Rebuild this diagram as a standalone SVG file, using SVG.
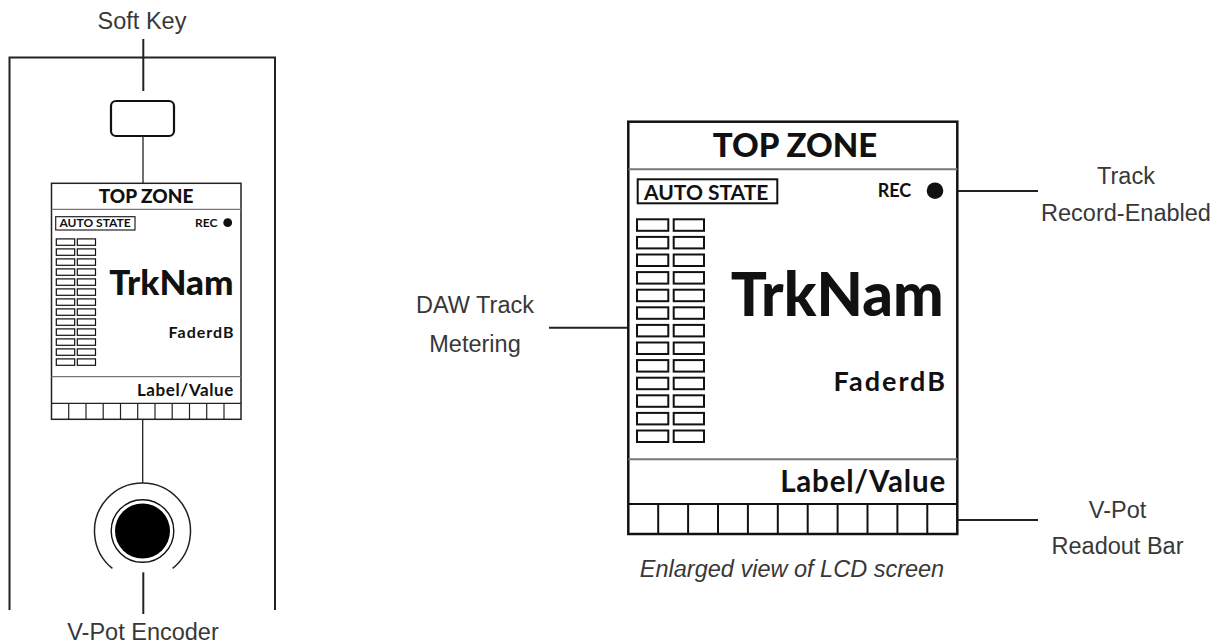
<svg xmlns="http://www.w3.org/2000/svg" width="1216" height="643" viewBox="0 0 1216 643">
<style>
.lbl{font-family:"Liberation Sans",Arial,sans-serif;font-size:23.5px;fill:#383838;text-anchor:middle}
.cap{font-style:italic}
.lcd{font-family:Lato,"Liberation Sans",sans-serif;fill:#111}
.blk{font-weight:900}
.bld{font-weight:700}
.end{text-anchor:end}
.mid{text-anchor:middle}
.ln{fill:none;stroke:#222}
.div{stroke:#777}
.cell{fill:#fff;stroke:#111}
</style>
<defs>
<g id="rowL"><rect class="cell" x="637" y="0" width="31.3" height="11.5" stroke-width="2"/><rect class="cell" x="673.7" y="0" width="30.3" height="11.5" stroke-width="2"/></g>
<g id="rowS"><rect class="cell" x="56.3" y="0" width="18.4" height="6.4" stroke-width="1.2"/><rect class="cell" x="77.3" y="0" width="18.2" height="6.4" stroke-width="1.2"/></g>
</defs>
<rect width="1216" height="643" fill="#fff"/>

<g id="channel-strip">
<path class="ln" d="M9.5 610 V57.5 H275 V610" stroke-width="2"/>
</g>

<g id="soft-key">
<rect x="111" y="101" width="63" height="35" rx="5" fill="#fff" stroke="#111" stroke-width="2.2"/>
</g>

<g id="lcd-small">
<rect x="51.5" y="183.3" width="189.5" height="236" fill="#fff" stroke="#222" stroke-width="1.5"/>
<line class="div" x1="51.5" y1="209.3" x2="241" y2="209.3" stroke-width="1.3"/>
<line class="div" x1="51.5" y1="376.7" x2="241" y2="376.7" stroke-width="1.3"/>
<line x1="51.5" y1="403.3" x2="241" y2="403.3" stroke="#222" stroke-width="1.3"/>
<g stroke="#222" stroke-width="1.2">
<line x1="68.7" y1="403.3" x2="68.7" y2="419.3"/><line x1="86" y1="403.3" x2="86" y2="419.3"/><line x1="103.2" y1="403.3" x2="103.2" y2="419.3"/><line x1="120.5" y1="403.3" x2="120.5" y2="419.3"/><line x1="137.7" y1="403.3" x2="137.7" y2="419.3"/><line x1="155" y1="403.3" x2="155" y2="419.3"/><line x1="172.2" y1="403.3" x2="172.2" y2="419.3"/><line x1="189.5" y1="403.3" x2="189.5" y2="419.3"/><line x1="206.7" y1="403.3" x2="206.7" y2="419.3"/><line x1="224" y1="403.3" x2="224" y2="419.3"/>
</g>
<text class="lcd blk mid" x="146" y="202.7" font-size="19">TOP ZONE</text>
<rect x="55.7" y="216.7" width="79.3" height="13.3" fill="none" stroke="#222" stroke-width="1.2"/>
<text class="lcd bld" x="59.5" y="227.3" font-size="12">AUTO STATE</text>
<text class="lcd bld" x="195" y="226.7" font-size="12" fill="#222">REC</text>
<circle cx="227.7" cy="222.7" r="4.4" fill="#111"/>
<use href="#rowS" y="238.9"/><use href="#rowS" y="248.9"/><use href="#rowS" y="258.9"/><use href="#rowS" y="268.9"/><use href="#rowS" y="278.9"/><use href="#rowS" y="288.9"/><use href="#rowS" y="298.9"/><use href="#rowS" y="308.9"/><use href="#rowS" y="318.9"/><use href="#rowS" y="328.9"/><use href="#rowS" y="338.9"/><use href="#rowS" y="348.9"/><use href="#rowS" y="358.9"/>
<text class="lcd blk end" x="233.5" y="295" font-size="35">TrkNam</text>
<text class="lcd bld end" x="234.5" y="338.3" font-size="16" letter-spacing="1" fill="#222">FaderdB</text>
<text class="lcd bld end" x="234" y="395.7" font-size="17" letter-spacing="0.6" fill="#222">Label/Value</text>
</g>

<g id="v-pot-encoder">
<path class="ln" d="M112.4 568.4 A48 48 0 1 1 172.6 568.4" stroke-width="1.5"/>
<circle cx="142.5" cy="531" r="31.3" fill="#fff" stroke="#111" stroke-width="1.4"/>
<circle cx="142.5" cy="531" r="27.5" fill="#000"/>
</g>

<g id="lcd-large">
<rect x="628.3" y="121.7" width="329" height="412.3" fill="#fff" stroke="#111" stroke-width="2.5"/>
<line class="div" x1="628.3" y1="169.3" x2="957.3" y2="169.3" stroke-width="2"/>
<line class="div" x1="628.3" y1="459.3" x2="957.3" y2="459.3" stroke-width="2"/>
<line x1="628.3" y1="504" x2="957.3" y2="504" stroke="#111" stroke-width="2"/>
<g stroke="#111" stroke-width="2">
<line x1="658.2" y1="504" x2="658.2" y2="534"/><line x1="688.1" y1="504" x2="688.1" y2="534"/><line x1="718" y1="504" x2="718" y2="534"/><line x1="747.9" y1="504" x2="747.9" y2="534"/><line x1="777.8" y1="504" x2="777.8" y2="534"/><line x1="807.7" y1="504" x2="807.7" y2="534"/><line x1="837.6" y1="504" x2="837.6" y2="534"/><line x1="867.5" y1="504" x2="867.5" y2="534"/><line x1="897.4" y1="504" x2="897.4" y2="534"/><line x1="927.3" y1="504" x2="927.3" y2="534"/>
</g>
<text class="lcd blk mid" x="795" y="157.3" font-size="33">TOP ZONE</text>
<rect x="637.7" y="179.3" width="139.6" height="24" fill="none" stroke="#111" stroke-width="2"/>
<text class="lcd bld" x="644" y="200" font-size="21">AUTO STATE</text>
<text class="lcd bld" x="877.7" y="196.7" font-size="18" fill="#222">REC</text>
<circle cx="935" cy="190.7" r="8.3" fill="#111"/>
<use href="#rowL" y="219.3"/><use href="#rowL" y="236.9"/><use href="#rowL" y="254.5"/><use href="#rowL" y="272.1"/><use href="#rowL" y="289.7"/><use href="#rowL" y="307.3"/><use href="#rowL" y="324.9"/><use href="#rowL" y="342.5"/><use href="#rowL" y="360.1"/><use href="#rowL" y="377.7"/><use href="#rowL" y="395.3"/><use href="#rowL" y="412.9"/><use href="#rowL" y="430.5"/>
<text class="lcd blk end" x="943.5" y="316" font-size="60">TrkNam</text>
<text class="lcd bld end" x="947" y="390.7" font-size="27" letter-spacing="2" fill="#222">FaderdB</text>
<text class="lcd bld end" x="946" y="491.7" font-size="29.5" letter-spacing="0.8" fill="#222">Label/Value</text>
</g>

<g id="connectors" class="ln">
<line x1="143.3" y1="39" x2="143.3" y2="91" stroke-width="2"/>
<line x1="143" y1="136" x2="143" y2="183.3" stroke-width="1.3"/>
<line x1="142.7" y1="419.3" x2="142.7" y2="483" stroke-width="1.3"/>
<line x1="143.3" y1="572.3" x2="143.3" y2="614" stroke-width="2"/>
<line x1="549" y1="327.7" x2="627" y2="327.7" stroke-width="2"/>
<line x1="958" y1="191" x2="1038" y2="191" stroke-width="2"/>
<line x1="958" y1="520" x2="1038" y2="520" stroke-width="2"/>
</g>

<g id="labels">
<text class="lbl" x="142" y="29">Soft Key</text>
<text class="lbl" x="143" y="640">V-Pot Encoder</text>
<text class="lbl" x="475" y="313.3">DAW Track</text>
<text class="lbl" x="475" y="351.7">Metering</text>
<text class="lbl" x="1126" y="184.3">Track</text>
<text class="lbl" x="1126" y="221">Record-Enabled</text>
<text class="lbl" x="1117.5" y="517.7">V-Pot</text>
<text class="lbl" x="1117.5" y="554">Readout Bar</text>
<text class="lbl cap" x="792" y="577">Enlarged view of LCD screen</text>
</g>
</svg>
